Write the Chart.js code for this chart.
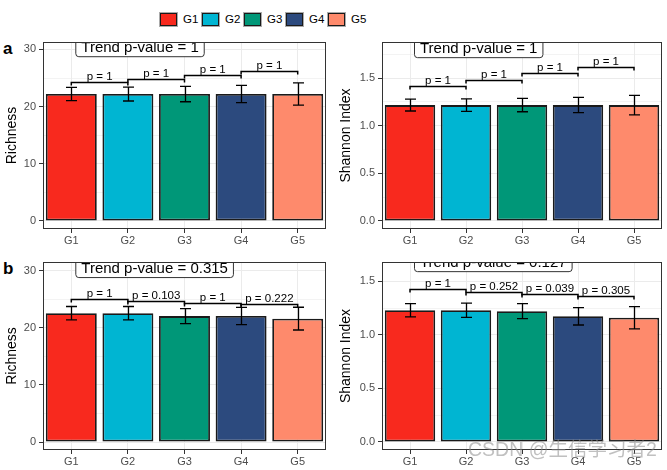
<!DOCTYPE html>
<html><head><meta charset="utf-8">
<script src="https://cdn.jsdelivr.net/npm/chart.js@4/dist/chart.umd.min.js"></script>
<style>
html,body{margin:0;padding:0;background:#fff;width:667px;height:470px;overflow:hidden;position:relative;font-family:'Liberation Sans',Arial,sans-serif;}
canvas{position:absolute;}
.lg{position:absolute;top:13px;height:13px;font-size:11.5px;line-height:13px;color:#000;}
.lg i{position:absolute;left:0;top:0;width:15px;height:11px;border:1px solid #1a1a1a;box-shadow:0 0 0 1px #aaa;}
.lg span{position:absolute;left:23px;top:0;white-space:nowrap;}
.tag{position:absolute;left:3px;font-weight:bold;font-size:17px;line-height:17px;}
.wm{position:absolute;left:468px;top:439px;font-size:19.5px;line-height:20px;color:rgba(140,140,140,0.55);font-family:'Liberation Sans','Noto Sans CJK SC',sans-serif;white-space:nowrap;}
</style></head><body>
<div id="legend"></div>
<div class="tag" style="top:40px">a</div>
<div class="tag" style="top:260px">b</div>
<canvas id="c1" width="330" height="222" style="left:0;top:30px"></canvas>
<canvas id="c2" width="337" height="222" style="left:330px;top:30px"></canvas>
<canvas id="c3" width="330" height="220" style="left:0;top:250px"></canvas>
<canvas id="c4" width="337" height="220" style="left:330px;top:250px"></canvas>
<div class="wm">CSDN @生信学习者2</div>
<script>
// ---------- data ----------
const groups = ['G1','G2','G3','G4','G5'];
const colors = ['#F8291E','#00B5D2','#009778','#2C4A7E','#FE8A6C'];

const richA     = [22.2, 22.2, 22.2, 22.2, 22.2];
const richAErr  = [1.15, 1.22, 1.35, 1.5, 1.95];
const richABr   = [24.3, 24.9, 25.6, 26.3];
const richAP    = ['p = 1','p = 1','p = 1','p = 1'];
const richATrend = 'Trend p-value = 1';

const shanA     = [1.216, 1.216, 1.216, 1.216, 1.216];
const shanAErr  = [0.062, 0.065, 0.070, 0.080, 0.103];
const shanABr   = [1.417, 1.48, 1.55, 1.616];
const shanAP    = ['p = 1','p = 1','p = 1','p = 1'];
const shanATrend = 'Trend p-value = 1';

const richB     = [22.54, 22.54, 22.03, 22.06, 21.59];
const richBErr  = [1.17, 1.17, 1.31, 1.51, 1.99];
const richBBr   = [24.98, 24.69, 24.4, 24.1];
const richBP    = ['p = 1','p = 0.103','p = 1','p = 0.222'];
const richBTrend = 'Trend p-value = 0.315';

const shanB     = [1.229, 1.23, 1.221, 1.173, 1.159];
const shanBErr  = [0.062, 0.066, 0.070, 0.081, 0.104];
const shanBBr   = [1.428, 1.40, 1.385, 1.36];
const shanBP    = ['p = 1','p = 0.252','p = 0.039','p = 0.305'];
const shanBTrend = 'Trend p-value = 0.127';

const richTicks = [0, 10, 20, 30];
const richMinor = [5, 15, 25];
const shanTicks = [0, 0.5, 1.0, 1.5];
const shanMinor = [0.25, 0.75, 1.25, 1.75];
const shanTickLabels = ['0.0','0.5','1.0','1.5'];

// ---------- legend ----------
const lg = document.getElementById('legend');
groups.forEach((g,i)=>{
  const d = document.createElement('div');
  d.className='lg'; d.style.left = (160 + i*42) + 'px';
  d.innerHTML = '<i style="background:'+colors[i]+'"></i><span>'+g+'</span>';
  lg.appendChild(d);
});

// ---------- overlay plugin (error bars, brackets, labels, border) ----------
const FONT = "'Liberation Sans', Arial, sans-serif";
const overlay = {
  id:'overlay',
  afterDatasetsDraw(chart){
    const o = chart.options.plugins.overlay;
    const {ctx, chartArea:a, scales:{x,y}} = chart;
    ctx.save();
    ctx.beginPath(); ctx.rect(a.left,a.top,a.right-a.left,a.bottom-a.top); ctx.clip();
    ctx.strokeStyle='#000'; ctx.lineWidth=1.3; ctx.lineCap='butt';
    o.means.forEach((m,i)=>{
      const cx = Math.round(x.getPixelForValue(i))+0.5;
      const yt = y.getPixelForValue(m+o.errs[i]);
      const yb = y.getPixelForValue(m-o.errs[i]);
      ctx.beginPath();
      ctx.moveTo(cx,yt); ctx.lineTo(cx,yb);
      ctx.moveTo(cx-5.5,yt); ctx.lineTo(cx+5.5,yt);
      ctx.moveTo(cx-5.5,yb); ctx.lineTo(cx+5.5,yb);
      ctx.stroke();
    });
    ctx.lineWidth=1.5;
    ctx.fillStyle='#000';
    ctx.font = '11.5px '+FONT; ctx.textAlign='center'; ctx.textBaseline='alphabetic';
    o.brackets.forEach((b,i)=>{
      const x1 = x.getPixelForValue(i), x2 = x.getPixelForValue(i+1);
      const yy = Math.round(y.getPixelForValue(b))+0.5;
      ctx.beginPath();
      ctx.moveTo(x1,yy+3); ctx.lineTo(x1,yy); ctx.lineTo(x2,yy); ctx.lineTo(x2,yy+3);
      ctx.stroke();
      ctx.fillText(o.plabels[i], (x1+x2)/2, yy-2.5);
    });
    // trend label
    ctx.font = '15px '+FONT; ctx.textAlign='left'; ctx.textBaseline='middle';
    const tw = ctx.measureText(o.trend).width;
    const lx = x.getPixelForValue(0)+4.5;
    const ty = y.getPixelForValue(o.trendY);
    const bw = tw+11, bt = ty-10, bh = 19;
    ctx.beginPath();
    ctx.roundRect(lx, bt, bw, bh, 3);
    ctx.fillStyle='#fff'; ctx.fill();
    ctx.strokeStyle='#333'; ctx.lineWidth=1; ctx.stroke();
    ctx.fillStyle='#000';
    ctx.fillText(o.trend, lx+5.5, ty+0.5);
    ctx.restore();
    ctx.save();
    ctx.strokeStyle='#333'; ctx.lineWidth=1;
    ctx.strokeRect(a.left+0.5, a.top+0.5, a.right-a.left-1, a.bottom-a.top-1);
    ctx.restore();
  }
};

function makePanel(id, cfg){
  new Chart(document.getElementById(id), {
    type:'bar',
    data:{ labels:groups, datasets:[{
      data:cfg.means, backgroundColor:colors, borderColor:'#1a1a1a', borderWidth:1.8,
      borderSkipped:false, categoryPercentage:1, barPercentage:0.9
    }]},
    plugins:[overlay],
    options:{
      responsive:false, animation:false, devicePixelRatio:1,
      layout:{padding:{left:0, right:cfg.padR, top:12, bottom:0}},
      plugins:{ legend:{display:false}, tooltip:{enabled:false},
        overlay:{means:cfg.means, errs:cfg.errs, brackets:cfg.brackets, plabels:cfg.plabels, trend:cfg.trend, trendY:cfg.trendY}
      },
      scales:{
        x:{
          offset:true,
          grid:{offset:false, color:'#EBEBEB', lineWidth:1, drawTicks:true, tickLength:4, tickColor:'#333'},
          border:{display:false},
          ticks:{color:'#4D4D4D', font:{family:FONT, size:11}, padding:1, maxRotation:0},
          afterFit(s){ s.height = cfg.xH; }
        },
        y:{
          min:cfg.min, max:cfg.max,
          afterBuildTicks(s){
            const all = cfg.ticks.concat(cfg.minor.filter(v=>v<=cfg.max)).sort((p,q)=>p-q);
            s.ticks = all.map(v=>({value:v}));
          },
          grid:{
            color:'#EBEBEB',
            lineWidth:(c)=> cfg.ticks.includes(c.tick && c.tick.value) ? 1 : 0.6,
            tickLength:4,
            tickColor:(c)=> cfg.ticks.includes(c.tick && c.tick.value) ? '#333' : 'rgba(0,0,0,0)'
          },
          border:{display:false},
          ticks:{
            color:'#4D4D4D', font:{family:FONT, size:11}, padding:3,
            callback:(v)=>{ const k = cfg.ticks.indexOf(v); return k<0 ? '' : cfg.tickLabels[k]; }
          },
          title:{display:true, text:cfg.title, color:'#000', font:{family:FONT, size:14}, padding:{top:cfg.titlePad, bottom:0}},
          afterFit(s){ s.width = cfg.yW; }
        }
      }
    }
  });
}

makePanel('c1',{means:richA, errs:richAErr, brackets:richABr, plabels:richAP, trend:richATrend, trendY:30.3,
  min:-1.4, max:31.3, ticks:richTicks, minor:richMinor, tickLabels:richTicks.map(String),
  title:'Richness', yW:43, xH:23, padR:4, titlePad:3.5});
makePanel('c2',{means:shanA, errs:shanAErr, brackets:shanABr, plabels:shanAP, trend:shanATrend, trendY:1.808,
  min:-0.084, max:1.878, ticks:shanTicks, minor:shanMinor, tickLabels:shanTickLabels,
  title:'Shannon Index', yW:52, xH:23, padR:5, titlePad:8});
makePanel('c3',{means:richB, errs:richBErr, brackets:richBBr, plabels:richBP, trend:richBTrend, trendY:30.35,
  min:-1.4, max:31.5, ticks:richTicks, minor:richMinor, tickLabels:richTicks.map(String),
  title:'Richness', yW:43, xH:20, padR:4, titlePad:3.5});
makePanel('c4',{means:shanB, errs:shanBErr, brackets:shanBBr, plabels:shanBP, trend:shanBTrend, trendY:1.674,
  min:-0.075, max:1.68, ticks:shanTicks, minor:shanMinor, tickLabels:shanTickLabels,
  title:'Shannon Index', yW:52, xH:20, padR:5, titlePad:8});
</script>
</body></html>
